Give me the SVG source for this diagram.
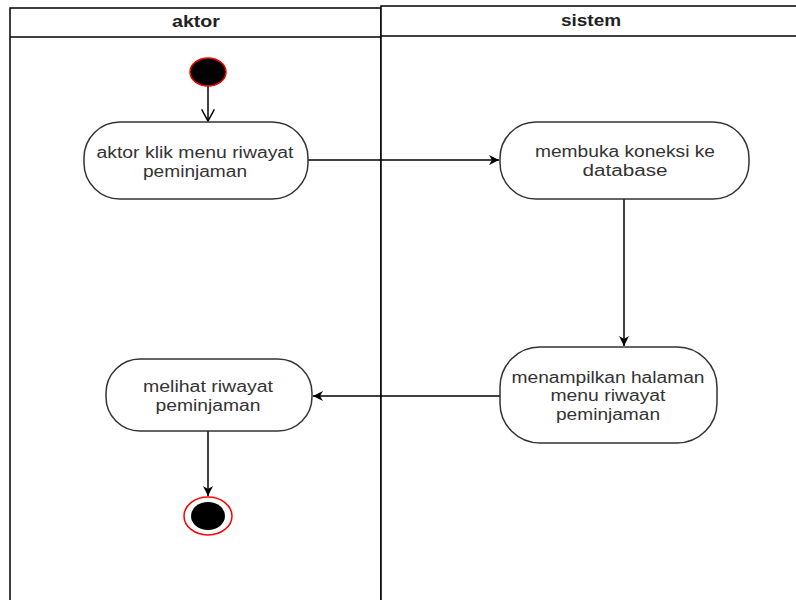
<svg xmlns="http://www.w3.org/2000/svg" width="796" height="600" viewBox="0 0 796 600">
<defs>
<style>
.lane{fill:#fff;stroke:#000;stroke-width:1.5}
.node{fill:#fff;stroke:#333;stroke-width:1.5}
.t{font-family:"Liberation Sans",Arial,sans-serif;font-size:16px;fill:#333;text-anchor:middle}
.h{font-family:"Liberation Sans",Arial,sans-serif;font-size:16px;font-weight:bold;fill:#222;text-anchor:middle}
.c{fill:none;stroke:#000;stroke-width:1.5}
</style>
<marker id="fa" viewBox="0 0 10 10" refX="10" refY="5" markerWidth="10" markerHeight="10" markerUnits="userSpaceOnUse" orient="auto">
<path d="M0,0 L10,5 L0,10 L3,5 Z" fill="#000"/>
</marker>
<marker id="oa" viewBox="0 0 12 12" refX="11" refY="6" markerWidth="14" markerHeight="14" markerUnits="userSpaceOnUse" orient="auto">
<path d="M1,0.5 L11,6 L1,11.5" fill="none" stroke="#000" stroke-width="1.3"/>
</marker>
</defs>
<rect width="796" height="600" fill="#fff"/>
<g id="lane-aktor">
<rect class="lane" x="10" y="8" width="371" height="600"/>
<line class="lane" x1="10" y1="37" x2="381" y2="37"/>
<text class="h" x="196" y="27" textLength="48" lengthAdjust="spacingAndGlyphs">aktor</text>
</g>
<g id="lane-sistem">
<rect class="lane" x="381" y="6" width="430" height="600"/>
<line class="lane" x1="381" y1="36" x2="811" y2="36"/>
<text class="h" x="591" y="26" textLength="60" lengthAdjust="spacingAndGlyphs">sistem</text>
</g>
<g id="connectors">
<line class="c" x1="208" y1="86" x2="208" y2="121" marker-end="url(#oa)"/>
<line class="c" x1="308" y1="160" x2="499" y2="160" marker-end="url(#fa)"/>
<line class="c" x1="624" y1="199" x2="624" y2="346" marker-end="url(#fa)"/>
<line class="c" x1="500" y1="396" x2="313" y2="396" marker-end="url(#fa)"/>
<line class="c" x1="208" y1="431" x2="208" y2="496" marker-end="url(#fa)"/>
</g>
<g id="start">
<ellipse cx="208" cy="72" rx="18" ry="14" fill="#000" stroke="#ff0000" stroke-width="1.5"/>
</g>
<g id="n1">
<rect class="node" x="84" y="122" width="224" height="77" rx="36" ry="36"/>
<text class="t" x="195" y="158" textLength="197" lengthAdjust="spacingAndGlyphs">aktor klik menu riwayat</text>
<text class="t" x="195" y="177" textLength="104" lengthAdjust="spacingAndGlyphs">peminjaman</text>
</g>
<g id="n2">
<rect class="node" x="500" y="122" width="249" height="77" rx="36" ry="36"/>
<text class="t" x="625" y="157" textLength="180" lengthAdjust="spacingAndGlyphs">membuka koneksi ke</text>
<text class="t" x="625" y="176" textLength="85" lengthAdjust="spacingAndGlyphs">database</text>
</g>
<g id="n3">
<rect class="node" x="500" y="347" width="217" height="96" rx="40" ry="40"/>
<text class="t" x="608" y="383" textLength="193" lengthAdjust="spacingAndGlyphs">menampilkan halaman</text>
<text class="t" x="608" y="401" textLength="115" lengthAdjust="spacingAndGlyphs">menu riwayat</text>
<text class="t" x="608" y="420" textLength="104" lengthAdjust="spacingAndGlyphs">peminjaman</text>
</g>
<g id="n4">
<rect class="node" x="106" y="359" width="206" height="72" rx="34" ry="34"/>
<text class="t" x="208" y="392" textLength="130" lengthAdjust="spacingAndGlyphs">melihat riwayat</text>
<text class="t" x="208" y="411" textLength="105" lengthAdjust="spacingAndGlyphs">peminjaman</text>
</g>
<g id="end">
<ellipse cx="208" cy="516" rx="24" ry="19" fill="#fff" stroke="#ff0000" stroke-width="1.5"/>
<ellipse cx="208" cy="516" rx="17" ry="14" fill="#000"/>
</g>
</svg>
